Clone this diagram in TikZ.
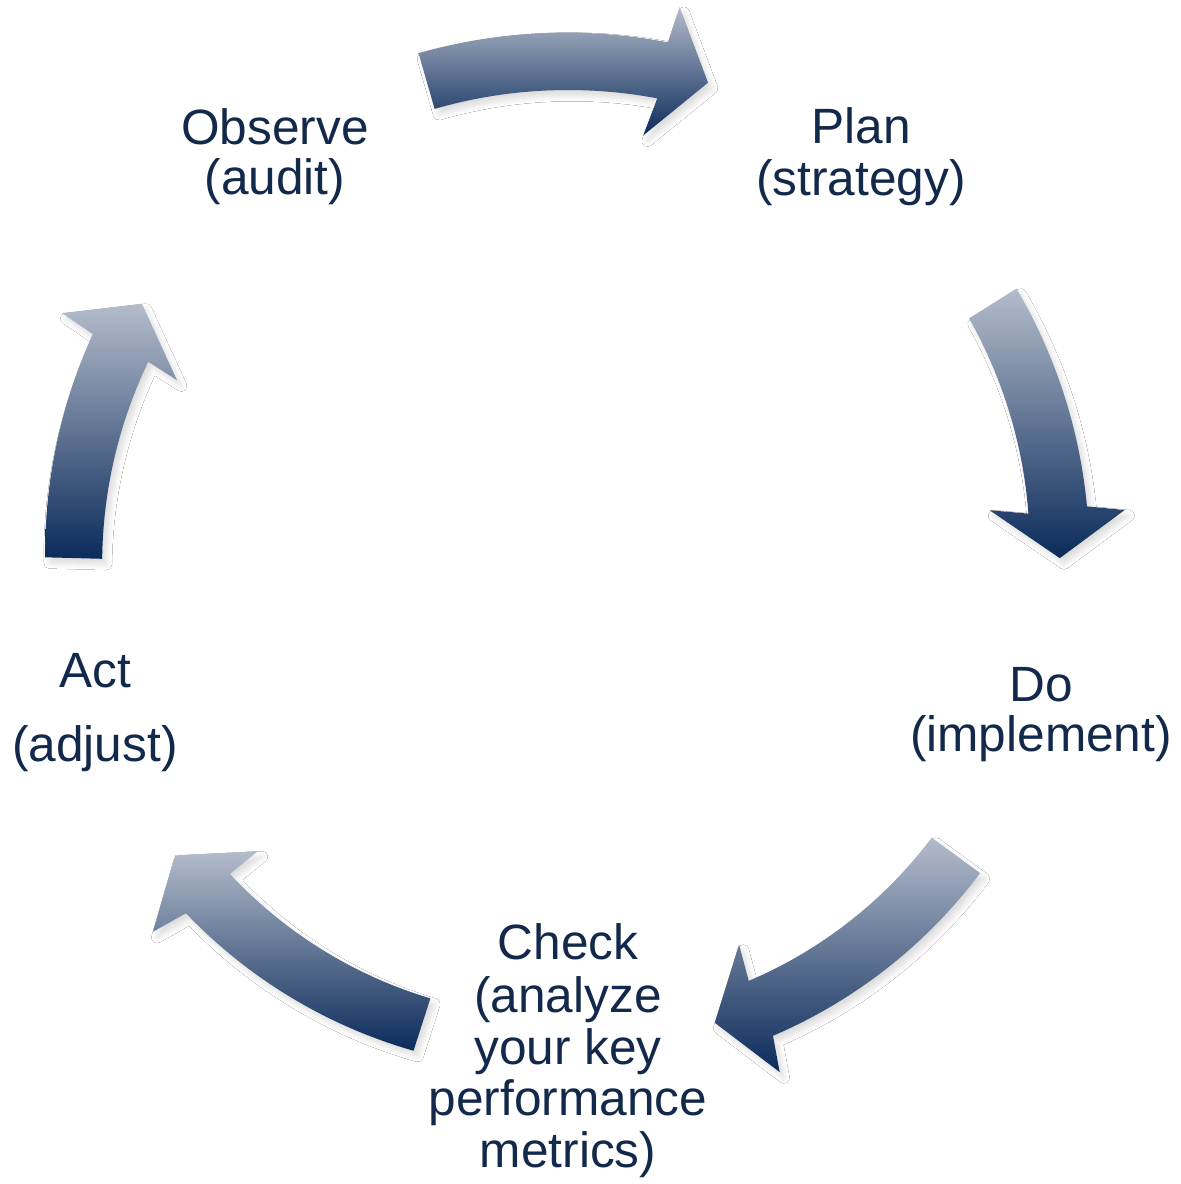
\documentclass[tikz,border=0pt]{standalone}
\usepackage{fontspec}
\setmainfont{Liberation Sans}
\usetikzlibrary{shadows.blur}

\definecolor{arrowlight}{HTML}{B4BCCB}
\definecolor{arrowdark}{HTML}{0B2B5B}
\definecolor{labelnavy}{HTML}{13294B}

\tikzset{
  arrowshade/.style={top color=arrowlight, bottom color=arrowdark, draw=none,
    blur shadow={shadow xshift=1.2pt, shadow yshift=-1.6pt,
                 shadow blur radius=1.6pt, shadow blur steps=8, shadow opacity=14}},
  cyclelabel/.style={anchor=base, inner sep=0pt, text=labelnavy,
    font=\fontsize{14.1}{14.8}\selectfont},
}

% Curved block arrow around the cycle centre.
% #1 tail angle, #2 head-base angle, #3/#4 inner/outer radius at the tail,
% #5/#6 inner/outer radius at the head base,
% #7 outer barb, #8 tip, #9 inner barb (polar, about the centre)
\newcommand\cyclearrow[9]{%
  \path[arrowshade]
    plot[domain=#1:#2, samples=50]
      (\x:{#4+((#6)-(#4))*(\x-(#1))/((#2)-(#1))})
    -- (#7) -- (#8) -- (#9)
    -- plot[domain=#2:#1, samples=50]
      (\x:{#3+((#5)-(#3))*(\x-(#1))/((#2)-(#1))})
    -- cycle;}

\begin{document}
\begin{tikzpicture}[x=0.01cm, y=0.01cm]
  \useasboundingbox[fill=white] (0,0) rectangle (1181,1184);

  % the five arrows of the cycle
  \begin{scope}[shift={(568,613)}]
    % Observe -> Plan
    \cyclearrow{106.1}{79.3}{481}{539}{481}{538}{78.8:575}{74.0:508}{80.2:442}
    % Plan -> Do
    \cyclearrow{32.2}{7.1}{474}{530}{464}{523}{6.25:560}{1.5:492}{8.2:426}
    % Do -> Check
    \cyclearrow{-36.25}{-66.2}{451}{511}{448}{508}{-67.1:544}{-72.0:475}{-65.4:411}
    % Check -> Act
    \cyclearrow{-107.85}{-138.15}{449}{504}{454}{513}{-139.0:550}{-144.1:485}{-137.9:418}
    % Act -> Observe
    \cyclearrow{178.5}{153.5}{466}{523}{469}{531}{153.0:568}{147.9:503}{154.0:435}
  \end{scope}

  % step labels
  \node[cyclelabel] (obs1) at (275,1039) {Observe};
  \node[cyclelabel] (obs2) at (275,989) {(audit)};

  \node[cyclelabel] (plan1) at (861,1040) {Plan};
  \node[cyclelabel] (plan2) at (861,988) {(strategy)};

  \node[cyclelabel] (do1) at (1041,482) {Do};
  \node[cyclelabel] (do2) at (1041,432) {(implement)};

  \node[cyclelabel] (chk1) at (568,224) {Check};
  \node[cyclelabel] (chk2) at (568,172) {(analyze};
  \node[cyclelabel] (chk3) at (568,120) {your key};
  \node[cyclelabel] (chk4) at (568,68) {performance};
  \node[cyclelabel] (chk5) at (568,16) {metrics)};

  \node[cyclelabel] (act1) at (95,496) {Act};
  \node[cyclelabel] (act2) at (95,422) {(adjust)};
\end{tikzpicture}
\end{document}
